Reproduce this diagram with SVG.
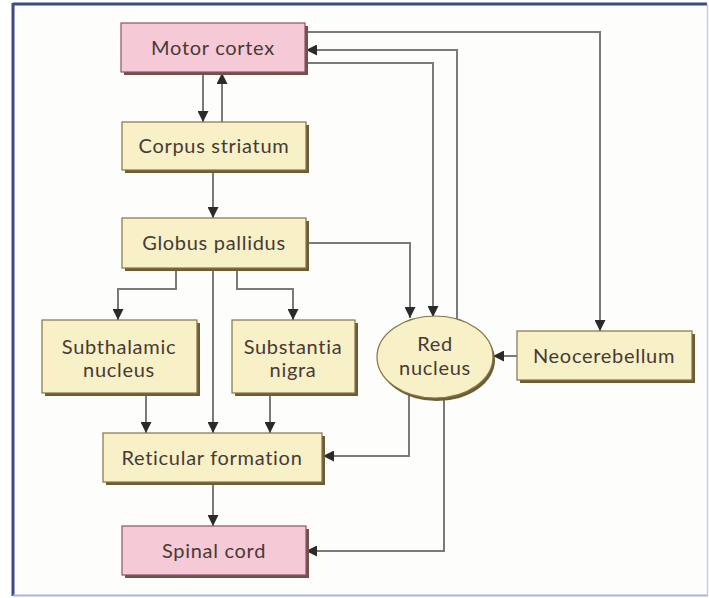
<svg xmlns="http://www.w3.org/2000/svg" width="709" height="598" viewBox="0 0 709 598">
<defs>
<style>
.pink{fill:#f6c9d6;stroke:#8c5468;stroke-width:1.2}
.tan{fill:#f8f0c6;stroke:#857443;stroke-width:1.2}
.shp{fill:#6e5448}
.sht{fill:#6b5d3a}
.lbl{font-family:Lato,"Open Sans","DejaVu Sans",sans-serif;font-size:20px;letter-spacing:0.7px;fill:#463a36;text-anchor:middle}
.ln{fill:none;stroke:#7a7a7a;stroke-width:2}
</style>
<marker id="ah" viewBox="0 0 10 10" refX="10" refY="5" markerWidth="5.5" markerHeight="5.5" orient="auto" markerUnits="strokeWidth">
<path d="M0,0 L10,5 L0,10 z" fill="#2a2a2a"/>
</marker>
</defs>
<rect x="0" y="0" width="709" height="598" fill="#ffffff"/>
<rect x="14" y="5" width="692" height="590" fill="#fdfdfb" stroke="none"/>
<line x1="13" y1="4" x2="707" y2="4" stroke="#3b4a88" stroke-width="3"/>
<line x1="13" y1="3" x2="13" y2="596" stroke="#3b4a88" stroke-width="3"/>
<line x1="13" y1="595.5" x2="708" y2="595.5" stroke="#aab4d6" stroke-width="2"/>
<line x1="707.5" y1="4" x2="707.5" y2="596" stroke="#c4cbe4" stroke-width="1.5"/>

<g id="connectors">
<line class="ln" x1="203" y1="72" x2="203" y2="122" marker-end="url(#ah)"/>
<line class="ln" x1="222" y1="122" x2="222" y2="73" marker-end="url(#ah)"/>
<line class="ln" x1="213" y1="170" x2="213" y2="218" marker-end="url(#ah)"/>
<polyline class="ln" points="176,268 176,289 118,289 118,320" marker-end="url(#ah)"/>
<polyline class="ln" points="237,268 237,289 293,289 293,320" marker-end="url(#ah)"/>
<line class="ln" x1="213" y1="268" x2="213" y2="433" marker-end="url(#ah)"/>
<line class="ln" x1="146" y1="395" x2="146" y2="433" marker-end="url(#ah)"/>
<line class="ln" x1="270" y1="395" x2="270" y2="433" marker-end="url(#ah)"/>
<line class="ln" x1="213" y1="483" x2="213" y2="526" marker-end="url(#ah)"/>
<polyline class="ln" points="306,243 410,243 410,318" marker-end="url(#ah)"/>
<polyline class="ln" points="306,63 433,63 433,317" marker-end="url(#ah)"/>
<polyline class="ln" points="457,322 457,50 306,50" marker-end="url(#ah)"/>
<polyline class="ln" points="306,32 600,32 600,331" marker-end="url(#ah)"/>
<line class="ln" x1="517" y1="356" x2="493" y2="356" marker-end="url(#ah)"/>
<polyline class="ln" points="409,393 409,456 323,456" marker-end="url(#ah)"/>
<polyline class="ln" points="444,396 444,551 306,551" marker-end="url(#ah)"/>
</g>

<g id="motor-cortex">
<rect class="shp" x="124" y="26" width="184" height="49"/>
<rect class="pink" x="121" y="23" width="184" height="49"/>
<text class="lbl" x="213" y="55">Motor cortex</text>
</g>
<g id="corpus-striatum">
<rect class="sht" x="125" y="125" width="184" height="48"/>
<rect class="tan" x="122" y="122" width="184" height="48"/>
<text class="lbl" x="214" y="153">Corpus striatum</text>
</g>
<g id="globus-pallidus">
<rect class="sht" x="125" y="221" width="184" height="50"/>
<rect class="tan" x="122" y="218" width="184" height="50"/>
<text class="lbl" x="214" y="250">Globus pallidus</text>
</g>
<g id="subthalamic-nucleus">
<rect class="sht" x="45" y="323" width="155" height="73"/>
<rect class="tan" x="42" y="320" width="155" height="73"/>
<text class="lbl" x="119" y="354">Subthalamic</text>
<text class="lbl" x="119" y="377">nucleus</text>
</g>
<g id="substantia-nigra">
<rect class="sht" x="235" y="323" width="123" height="73"/>
<rect class="tan" x="232" y="320" width="123" height="73"/>
<text class="lbl" x="293" y="354">Substantia</text>
<text class="lbl" x="293" y="377">nigra</text>
</g>
<g id="red-nucleus">
<ellipse cx="437" cy="360" rx="58" ry="41" fill="#6b5d3a"/>
<ellipse class="tan" cx="435" cy="357" rx="58" ry="41"/>
<text class="lbl" x="435" y="351">Red</text>
<text class="lbl" x="435" y="375">nucleus</text>
</g>
<g id="neocerebellum">
<rect class="sht" x="520" y="334" width="175" height="49"/>
<rect class="tan" x="517" y="331" width="175" height="49"/>
<text class="lbl" x="604" y="363">Neocerebellum</text>
</g>
<g id="reticular-formation">
<rect class="sht" x="106" y="436" width="219" height="49"/>
<rect class="tan" x="103" y="433" width="219" height="49"/>
<text class="lbl" x="212" y="465">Reticular formation</text>
</g>
<g id="spinal-cord">
<rect class="shp" x="125" y="529" width="184" height="49"/>
<rect class="pink" x="122" y="526" width="184" height="49"/>
<text class="lbl" x="214" y="558">Spinal cord</text>
</g>
</svg>
